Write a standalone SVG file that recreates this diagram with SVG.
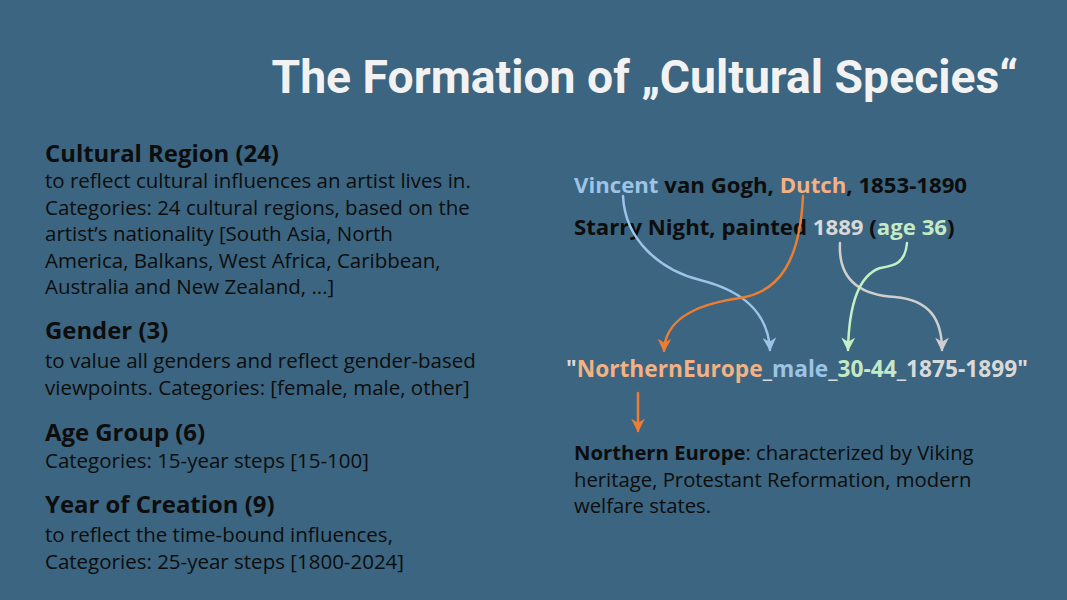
<svg xmlns="http://www.w3.org/2000/svg" width="1067" height="600" viewBox="0 0 1067 600">
  <style>
    .title { font-family: Roboto, "Liberation Sans", sans-serif; font-weight: 700; font-size: 46.3px; fill: #f2f2f2; }
    .head { font-family: "Open Sans", "Liberation Sans", sans-serif; font-weight: 700; font-size: 23.9px; fill: #0d0d0d; }
    .body { font-family: "Open Sans", "Liberation Sans", sans-serif; font-size: 20.5px; fill: #0d0d0d; }
    .ex { font-family: "Open Sans", "Liberation Sans", sans-serif; font-weight: 700; font-size: 22.2px; fill: #0d0d0d; }
    .code { font-family: "Open Sans", "Liberation Sans", sans-serif; font-weight: 700; font-size: 22.7px; fill: #d9d9d9; }
    .note { font-family: "Open Sans", "Liberation Sans", sans-serif; font-size: 20.3px; fill: #0d0d0d; }
    .blue { fill: #9dc3e6; }
    .orange { fill: #f4b183; }
    .gray { fill: #d9d9d9; }
    .green { fill: #c5e9c5; }
    .conn { fill: none; stroke-width: 2.5; stroke-linecap: round; }
  </style>
  <defs>
    <marker id="arrOrange" viewBox="0 0 10 10" refX="9" refY="5" markerWidth="5.5" markerHeight="5.5" orient="auto" markerUnits="strokeWidth">
      <path d="M0,0 L10,5 L0,10 L3,5 z" fill="#ed7d31"/>
    </marker>
    <marker id="arrBlue" viewBox="0 0 10 10" refX="9" refY="5" markerWidth="5.5" markerHeight="5.5" orient="auto" markerUnits="strokeWidth">
      <path d="M0,0 L10,5 L0,10 L3,5 z" fill="#9dc3e6"/>
    </marker>
    <marker id="arrGray" viewBox="0 0 10 10" refX="9" refY="5" markerWidth="5.5" markerHeight="5.5" orient="auto" markerUnits="strokeWidth">
      <path d="M0,0 L10,5 L0,10 L3,5 z" fill="#d0cece"/>
    </marker>
    <marker id="arrGreen" viewBox="0 0 10 10" refX="9" refY="5" markerWidth="5.5" markerHeight="5.5" orient="auto" markerUnits="strokeWidth">
      <path d="M0,0 L10,5 L0,10 L3,5 z" fill="#c5f0c5"/>
    </marker>
  </defs>

  <rect width="1067" height="600" fill="#3b6580"/>

  <text class="title" x="1018" y="93" text-anchor="end">The Formation of „Cultural Species“</text>

  <g id="cultural-region">
    <text class="head" x="45" y="162">Cultural Region (24)</text>
    <text class="body" x="45" y="188">to reflect cultural influences an artist lives in.</text>
    <text class="body" x="45" y="214.5">Categories: 24 cultural regions, based on the</text>
    <text class="body" x="45" y="241">artist’s nationality [South Asia, North</text>
    <text class="body" x="45" y="267.5">America, Balkans, West Africa, Caribbean,</text>
    <text class="body" x="45" y="294">Australia and New Zealand, ...]</text>
  </g>

  <g id="gender">
    <text class="head" x="45" y="339">Gender (3)</text>
    <text class="body" x="45" y="368">to value all genders and reflect gender-based</text>
    <text class="body" x="45" y="394.5">viewpoints. Categories: [female, male, other]</text>
  </g>

  <g id="age-group">
    <text class="head" x="45" y="441">Age Group (6)</text>
    <text class="body" x="45" y="468">Categories: 15-year steps [15-100]</text>
  </g>

  <g id="year-of-creation">
    <text class="head" x="45" y="513">Year of Creation (9)</text>
    <text class="body" x="45" y="542">to reflect the time-bound influences,</text>
    <text class="body" x="45" y="568.5">Categories: 25-year steps [1800-2024]</text>
  </g>

  <g id="artist">
    <text class="ex" x="574" y="193"><tspan class="blue">Vincent</tspan> van Gogh, <tspan class="orange">Dutch</tspan>, 1853-1890</text>
  </g>

  <g id="artwork">
    <text class="ex" x="574" y="235">Starry Night, painted <tspan class="gray">1889</tspan> (<tspan class="green">age 36</tspan>)</text>
  </g>

  <g id="species-label">
    <text class="code" x="566" y="377">"<tspan class="orange">NorthernEurope</tspan>_<tspan class="blue">male</tspan>_<tspan class="green">30-44</tspan>_1875-1899"</text>
  </g>

  <g id="region-note">
    <text class="note" x="574" y="460"><tspan font-weight="700">Northern Europe</tspan>: characterized by Viking</text>
    <text class="note" x="574" y="487">heritage, Protestant Reformation, modern</text>
    <text class="note" x="574" y="513">welfare states.</text>
  </g>

  <g id="connectors">
    <path class="conn" stroke="#9dc3e6" d="M623,196 C625,240 660,270 700,280 C740,290 768,310 770,350" marker-end="url(#arrBlue)"/>
    <path class="conn" stroke="#ed7d31" d="M803,196 C800,260 780,292 740,298 C690,305 665,322 664,351" marker-end="url(#arrOrange)"/>
    <path class="conn" stroke="#d0cece" d="M840,243 C838,280 860,295 895,297 C930,300 942,320 942,350" marker-end="url(#arrGray)"/>
    <path class="conn" stroke="#c5f0c5" d="M907,243 C905,265 892,266 880,268 C860,275 849,300 848,350" marker-end="url(#arrGreen)"/>
    <path class="conn" stroke="#ed7d31" d="M638,393 L638,431" marker-end="url(#arrOrange)"/>
  </g>
</svg>
